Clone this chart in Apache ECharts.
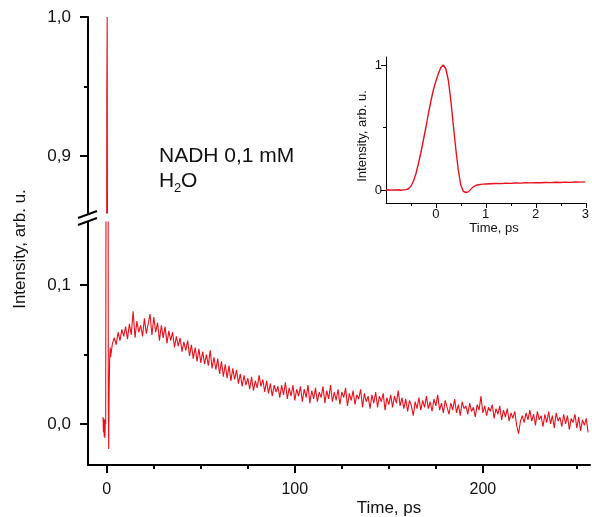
<!DOCTYPE html>
<html>
<head>
<meta charset="utf-8">
<script src="https://cdn.jsdelivr.net/npm/echarts@6/dist/echarts.min.js"></script>
<style>html,body{margin:0;padding:0;background:#fff;}#c{width:592px;height:517px;}</style>
</head>
<body>
<div id="c"></div>
<script>
// ---------- data ----------
const spikeTime = [-2.0, -1.8, -1.6, -1.4, -1.2, -1.0, -0.8, -0.6, -0.4, -0.2, 0.0, 0.2, 0.4, 0.6, 0.8, 1.0, 1.2, 1.5, 1.8];
const spikeIntensity = [0.005, -0.006, 0.004, -0.009, 0.003, -0.010, 0.002, 0.000, 0.20, 0.70, 0.95, 1.0, 0.80, 0.30, 0.02, -0.018, 0.020, 0.045, 0.055];

const decayStart = 2;   // ps
const decayStep = 1;    // ps
const decayIntensity = [
  0.048, 0.058, 0.062, 0.057, 0.066, 0.060, 0.068, 0.063, 0.070, 0.061,
  0.072, 0.064, 0.081, 0.062, 0.074, 0.066, 0.071, 0.063, 0.076, 0.065,
  0.072, 0.079, 0.064, 0.077, 0.066, 0.073, 0.060, 0.071, 0.062, 0.070,
  0.058, 0.067, 0.060, 0.066, 0.055, 0.063, 0.056, 0.062, 0.052, 0.059,
  0.053, 0.060, 0.049, 0.057, 0.047, 0.055, 0.045, 0.054, 0.044, 0.052,
  0.043, 0.050, 0.042, 0.053, 0.040, 0.048, 0.039, 0.047, 0.036, 0.045,
  0.034, 0.043, 0.033, 0.042, 0.031, 0.040, 0.032, 0.039, 0.029, 0.036,
  0.027, 0.035, 0.028, 0.033, 0.025, 0.034, 0.024, 0.031, 0.026, 0.035,
  0.027, 0.032, 0.023, 0.031, 0.022, 0.029, 0.020, 0.028, 0.023, 0.027,
  0.019, 0.028, 0.021, 0.030, 0.018, 0.026, 0.020, 0.028, 0.017, 0.025,
  0.020, 0.027, 0.016, 0.025, 0.019, 0.028, 0.015, 0.024, 0.018, 0.026,
  0.016, 0.023, 0.019, 0.027, 0.015, 0.024, 0.018, 0.028, 0.016, 0.023,
  0.017, 0.025, 0.014, 0.023, 0.019, 0.026, 0.013, 0.022, 0.017, 0.024,
  0.014, 0.021, 0.018, 0.025, 0.012, 0.022, 0.016, 0.020, 0.011, 0.021,
  0.015, 0.023, 0.012, 0.020, 0.016, 0.022, 0.010, 0.019, 0.014, 0.021,
  0.012, 0.020, 0.015, 0.024, 0.013, 0.019, 0.011, 0.018, 0.009, 0.017,
  0.013, 0.006, 0.016, 0.011, 0.019, 0.010, 0.017, 0.012, 0.020, 0.011,
  0.016, 0.009, 0.018, 0.013, 0.021, 0.010, 0.015, 0.008, 0.017, 0.012,
  0.007, 0.015, 0.010, 0.018, 0.008, 0.014, 0.006, 0.016, 0.011, 0.013,
  0.007, 0.015, 0.009, 0.012, 0.005, 0.014, 0.010, 0.020, 0.008, 0.013,
  0.006, 0.012, 0.009, 0.014, 0.004, 0.011, 0.007, 0.013, 0.003, 0.010,
  0.005, 0.011, 0.002, 0.008, 0.004, 0.009, -0.001, -0.007, 0.002, 0.006,
  0.001, 0.008, 0.003, 0.010, 0.002, 0.007, -0.001, 0.009, 0.003, 0.006,
  -0.002, 0.007, 0.001, 0.009, 0.000, 0.006, -0.003, 0.008, 0.002, 0.005,
  -0.002, 0.007, 0.000, 0.006, -0.004, 0.004, 0.001, 0.007, -0.003, 0.005,
  -0.005, 0.003, -0.001, 0.004, -0.006
];

const insetTime = [
  -1.0, -0.95, -0.9, -0.85, -0.8, -0.75, -0.7, -0.65, -0.6, -0.55,
  -0.5, -0.45, -0.4, -0.35, -0.3, -0.25, -0.2, -0.15, -0.1, -0.05,
  0.0, 0.05, 0.1, 0.15, 0.2, 0.25, 0.3, 0.35, 0.4, 0.45,
  0.5, 0.55, 0.6, 0.65, 0.7, 0.75, 0.8, 0.85, 0.9, 0.95,
  1.0, 1.1, 1.2, 1.3, 1.4, 1.5, 1.6, 1.7, 1.8, 1.9,
  2.0, 2.1, 2.2, 2.3, 2.4, 2.5, 2.6, 2.7, 2.8, 2.9, 3.0
];
const insetIntensity = [
  0.000, 0.002, -0.001, 0.001, 0.000, 0.002, -0.002, 0.001, 0.003, 0.010,
  0.030, 0.070, 0.130, 0.210, 0.300, 0.400, 0.500, 0.610, 0.710, 0.800,
  0.870, 0.930, 0.980, 1.000, 0.970, 0.880, 0.720, 0.520, 0.330, 0.160,
  0.040, -0.010, -0.020, -0.015, 0.005, 0.025, 0.036, 0.042, 0.045, 0.047,
  0.048, 0.050, 0.052, 0.051, 0.054, 0.053, 0.056, 0.055, 0.058, 0.057,
  0.059, 0.058, 0.060, 0.059, 0.062, 0.060, 0.063, 0.061, 0.064, 0.063, 0.065
];

const mainXLabels = [0, 100, 200];
const mainXMinor = [25, 50, 75, 125, 150, 175, 225, 250];
const upperYLabels = [0.9, 1.0];
const upperYMinor = [0.95];
const lowerYLabels = [0.0, 0.1];
const lowerYMinor = [0.05];
const insetXLabels = [0, 1, 2, 3];
const insetXMinor = [-0.5, 0.5, 1.5, 2.5];
const insetYLabels = [0, 1];
const insetYMinor = [0.5];

// ---------- build ----------
const mainData = spikeTime.map((t, i) => [t, spikeIntensity[i]])
  .concat(decayIntensity.map((v, i) => [decayStart + i * decayStep, v]));
const insetData = insetTime.map((t, i) => [t, insetIntensity[i]]);

const FONT = 'Liberation Sans, Arial, sans-serif';
const RED = '#e8101c';
const comma = v => (Math.round(v * 10) / 10).toFixed(1).replace('.', ',');

const MAIN_X = [-10, 257];
const UPPER_Y = [0.859, 1.0];
const LOWER_Y = [-0.0295, 0.1453];
const INSET_X = [-1, 3];
const INSET_Y = [-0.104, 1.064];

const boxes = {
  upper: { left: 88, top: 17, width: 502, height: 196 },
  lower: { left: 88, top: 222, width: 502, height: 243 },
  inset: { left: 386, top: 57, width: 200, height: 146 }
};

const grids = [], xAxes = [], yAxes = [];
function axis(grid, range, pos, cfg) {
  const a = {
    type: 'value', gridIndex: grid, min: range[0], max: range[1], position: pos,
    splitLine: { show: false },
    axisLine: { show: false, onZero: false },
    axisTick: { show: false },
    axisLabel: { show: false }
  };
  if (cfg && cfg.line) a.axisLine = { show: true, onZero: false, lineStyle: { color: '#000', width: cfg.line } };
  if (cfg && cfg.ticks) a.axisTick = { show: true, inside: false, length: cfg.len, lineStyle: { color: '#000', width: cfg.tw }, customValues: cfg.ticks };
  if (cfg && cfg.labels) {
    a.axisLabel = { show: true, margin: cfg.margin, fontSize: cfg.size, color: '#111', fontFamily: FONT, customValues: cfg.labels };
    if (cfg.fmt) a.axisLabel.formatter = cfg.fmt;
  }
  return a;
}
function addGrid(box, xr, yr, xcfg, ycfg) {
  const gi = grids.length;
  grids.push(Object.assign({}, box));
  xAxes.push(axis(gi, xr, 'bottom', xcfg));
  yAxes.push(axis(gi, yr, 'left', ycfg));
  return gi;
}

// plotting grids (line + labels)
const gUpper = addGrid(boxes.upper, MAIN_X, UPPER_Y, null,
  { line: 2, labels: upperYLabels, size: 17, margin: 17, fmt: comma });
const gLower = addGrid(boxes.lower, MAIN_X, LOWER_Y,
  { line: 2, labels: mainXLabels, size: 16, margin: 17 },
  { line: 2, labels: lowerYLabels, size: 17, margin: 17, fmt: comma });
const gInset = addGrid(boxes.inset, INSET_X, INSET_Y,
  { line: 1, labels: insetXLabels, size: 13, margin: 5 },
  { line: 1, labels: insetYLabels, size: 13, margin: 4 });
// major tick grids
addGrid(boxes.upper, MAIN_X, UPPER_Y, null, { ticks: upperYLabels, len: 8, tw: 2 });
addGrid(boxes.lower, MAIN_X, LOWER_Y, { ticks: mainXLabels, len: 8, tw: 2 }, { ticks: lowerYLabels, len: 8, tw: 2 });
addGrid(boxes.inset, INSET_X, INSET_Y, { ticks: insetXLabels, len: 5, tw: 1 }, { ticks: insetYLabels, len: 5, tw: 1 });
// minor tick grids
addGrid(boxes.upper, MAIN_X, UPPER_Y, null, { ticks: upperYMinor, len: 4, tw: 2 });
addGrid(boxes.lower, MAIN_X, LOWER_Y, { ticks: mainXMinor, len: 4, tw: 2 }, { ticks: lowerYMinor, len: 4, tw: 2 });
addGrid(boxes.inset, INSET_X, INSET_Y, { ticks: insetXMinor, len: 3, tw: 1 }, { ticks: insetYMinor, len: 3, tw: 1 });

const chart = echarts.init(document.getElementById('c'), null, { renderer: 'canvas' });
chart.setOption({
  animation: false,
  backgroundColor: '#fff',
  grid: grids,
  xAxis: xAxes,
  yAxis: yAxes,
  series: [
    { type: 'line', xAxisIndex: gUpper, yAxisIndex: gUpper, data: mainData, symbol: 'none', clip: true,
      lineStyle: { color: RED, width: 1.1 } },
    { type: 'line', xAxisIndex: gLower, yAxisIndex: gLower, data: mainData, symbol: 'none', clip: true,
      lineStyle: { color: RED, width: 1.1 } },
    { type: 'line', xAxisIndex: gInset, yAxisIndex: gInset, data: insetData, symbol: 'none', clip: true,
      lineStyle: { color: RED, width: 1.4 } }
  ],
  graphic: [
    { type: 'line', z: 100, shape: { x1: 78, y1: 218, x2: 97, y2: 211 }, style: { stroke: '#000', lineWidth: 2 } },
    { type: 'line', z: 100, shape: { x1: 78, y1: 225, x2: 97, y2: 218 }, style: { stroke: '#000', lineWidth: 2 } },
    { type: 'text', x: 20, y: 249, rotation: Math.PI / 2,
      style: { text: 'Intensity, arb. u.', font: '17px ' + FONT, fill: '#111', align: 'center', verticalAlign: 'middle' } },
    { type: 'text', x: 389, y: 508,
      style: { text: 'Time, ps', font: '17px ' + FONT, fill: '#111', align: 'center', verticalAlign: 'middle' } },
    { type: 'text', x: 362, y: 136, rotation: Math.PI / 2,
      style: { text: 'Intensity, arb. u.', font: '13px ' + FONT, fill: '#111', align: 'center', verticalAlign: 'middle' } },
    { type: 'text', x: 494, y: 228,
      style: { text: 'Time, ps', font: '13px ' + FONT, fill: '#111', align: 'center', verticalAlign: 'middle' } },
    { type: 'text', x: 159, y: 156,
      style: { text: 'NADH 0,1 mM', font: '21px ' + FONT, fill: '#111', align: 'left', verticalAlign: 'middle' } },
    { type: 'text', x: 159, y: 181,
      style: { text: 'H', font: '21px ' + FONT, fill: '#111', align: 'left', verticalAlign: 'middle' } },
    { type: 'text', x: 174, y: 188,
      style: { text: '2', font: '13px ' + FONT, fill: '#111', align: 'left', verticalAlign: 'middle' } },
    { type: 'text', x: 181, y: 181,
      style: { text: 'O', font: '21px ' + FONT, fill: '#111', align: 'left', verticalAlign: 'middle' } }
  ]
});
</script>
</body>
</html>
